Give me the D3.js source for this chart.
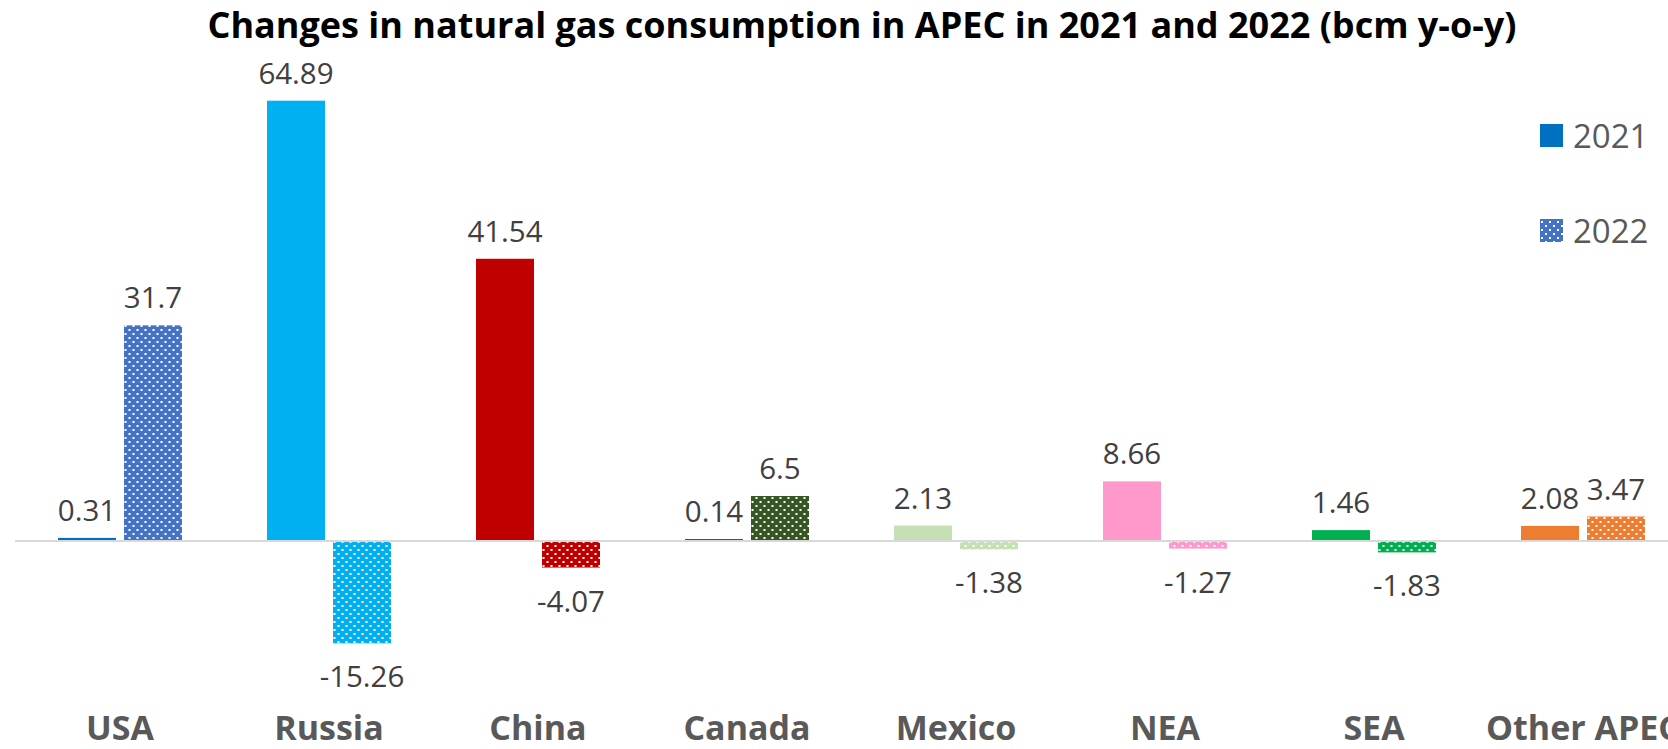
<!DOCTYPE html>
<html>
<head>
<meta charset="utf-8">
<script src="https://cdn.jsdelivr.net/npm/d3@7/dist/d3.min.js"></script>
<style>
  html, body { margin: 0; padding: 0; background: #ffffff; }
  svg { display: block; }
</style>
</head>
<body>
<svg id="chart" width="1668" height="749"></svg>
<script>
// ---- Data ----
const categories = ["USA", "Russia", "China", "Canada", "Mexico", "NEA", "SEA", "Other APEC"];
const years = ["2021", "2022"];
const values2021 = [0.31, 64.89, 41.54, 0.14, 2.13, 8.66, 1.46, 2.08];
const values2022 = [31.7, -15.26, -4.07, 6.5, -1.38, -1.27, -1.83, 3.47];
const colors2021 = ["#0070C0", "#00B0F0", "#C00000", "#375623", "#C5E0B4", "#FF99CC", "#00B050", "#ED7D31"];
const colors2022 = ["#4472C4", "#00B0F0", "#C00000", "#375623", "#C5E0B4", "#FF99CC", "#00B050", "#ED7D31"];
const legendColors = ["#0070C0", "#4472C4"];
const titleText = "Changes in natural gas consumption in APEC in 2021 and 2022 (bcm y-o-y)";

const svg = d3.select("#chart");
const W = 1668, H = 749;
svg.append("rect").attr("width", W).attr("height", H).attr("fill", "#ffffff");

const defs = svg.append("defs");
function patternId(color) { return "dots-" + color.replace("#", ""); }
const uniqueColors = Array.from(new Set(colors2022.concat(legendColors)));
uniqueColors.forEach(c => {
  const p = defs.append("pattern")
    .attr("id", patternId(c))
    .attr("patternUnits", "userSpaceOnUse")
    .attr("width", 8).attr("height", 8);
  p.append("rect").attr("width", 8).attr("height", 8).attr("fill", c);
  p.append("rect").attr("x", 1).attr("y", 1).attr("width", 2).attr("height", 2).attr("fill", "#ffffff");
  p.append("rect").attr("x", 5).attr("y", 5).attr("width", 2).attr("height", 2).attr("fill", "#ffffff");
});

// ---- Scales ----
const x0 = d3.scaleBand().domain(categories).range([15.5, 1687.5]).padding(0);
const x1 = d3.scaleBand().domain(years).range([42.5, 166.5]).paddingInner(8 / 66).paddingOuter(0);
const y = d3.scaleLinear().domain([-20, 70]).range([540 + 20 * 6.77, 540 - 70 * 6.77]);

const rows = categories.map((c, i) => ({
  cat: c,
  bars: [
    { year: "2021", value: values2021[i], fill: colors2021[i] },
    { year: "2022", value: values2022[i], fill: "url(#" + patternId(colors2022[i]) + ")" }
  ]
}));

// ---- Title ----
svg.append("text")
  .attr("x", 862).attr("y", 38)
  .attr("text-anchor", "middle")
  .attr("font-family", "'Open Sans', 'Noto Sans', sans-serif")
  .attr("font-weight", "bold")
  .attr("font-size", 36)
  .attr("fill", "#000000")
  .text(titleText);

// ---- Bars ----
const groups = svg.append("g").selectAll("g")
  .data(rows).join("g")
  .attr("transform", d => `translate(${x0(d.cat)},0)`);

groups.selectAll("rect")
  .data(d => d.bars).join("rect")
  .attr("x", d => x1(d.year))
  .attr("width", x1.bandwidth())
  .attr("y", d => Math.min(y(d.value), y(0)))
  .attr("height", d => Math.max(1, Math.abs(y(d.value) - y(0))))
  .attr("fill", d => d.fill);

groups.selectAll("text.lbl")
  .data(d => d.bars).join("text")
  .attr("class", "lbl")
  .attr("x", d => x1(d.year) + x1.bandwidth() / 2)
  .attr("y", d => d.value >= 0 ? y(d.value) - 17 : y(d.value) + 44)
  .attr("text-anchor", "middle")
  .attr("font-family", "'Open Sans', 'Noto Sans', sans-serif")
  .attr("font-size", 29.5)
  .attr("fill", "#404040")
  .text(d => String(d.value));

// ---- Zero axis line ----
svg.append("line")
  .attr("x1", 15).attr("x2", W)
  .attr("y1", y(0) + 1).attr("y2", y(0) + 1)
  .attr("stroke", "#d9d9d9").attr("stroke-width", 2);

// ---- Category axis ----
const xAxis = d3.axisBottom(x0).tickSize(0).tickPadding(0);
const axisG = svg.append("g").attr("transform", "translate(0,739.5)").call(xAxis);
axisG.select(".domain").remove();
axisG.selectAll("text")
  .attr("dy", 0)
  .attr("y", 0)
  .attr("font-family", "'Open Sans', 'Noto Sans', sans-serif")
  .attr("font-weight", "bold")
  .attr("font-size", 34)
  .attr("fill", "#595959");

// ---- Legend ----
const legend = svg.append("g");
const legendY = [124, 219];
years.forEach((yr, i) => {
  legend.append("rect")
    .attr("x", 1540).attr("y", legendY[i])
    .attr("width", 23).attr("height", 23)
    .attr("fill", i === 0 ? legendColors[0] : "url(#" + patternId(legendColors[1]) + ")");
  legend.append("text")
    .attr("x", 1573).attr("y", legendY[i] + 24)
    .attr("font-family", "'Open Sans', 'Noto Sans', sans-serif")
    .attr("font-size", 33)
    .attr("fill", "#595959")
    .text(yr);
});
</script>
</body>
</html>
